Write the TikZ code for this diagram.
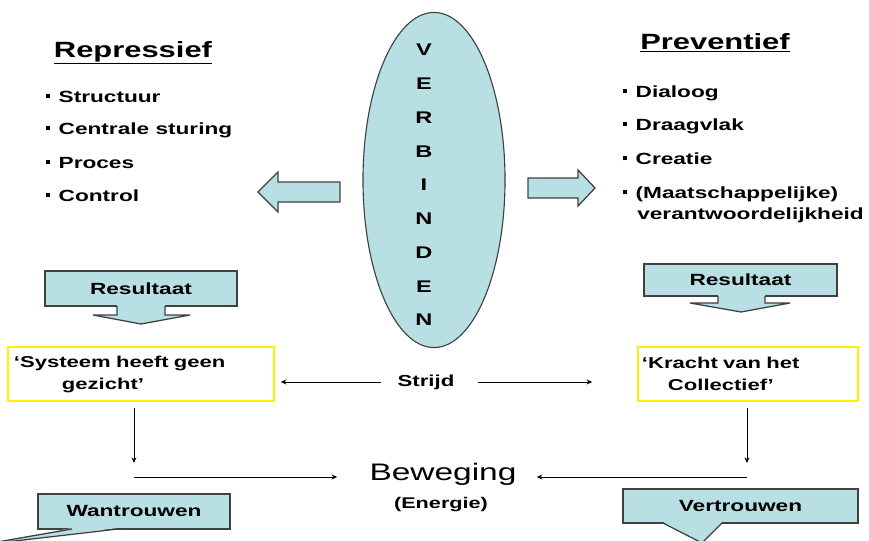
\documentclass[tikz,border=0pt]{standalone}
\usepackage{fontspec}
\setmainfont{Liberation Sans}[FakeStretch=1.4]
\usepackage{tikz}
\usetikzlibrary{arrows.meta, shapes.geometric, positioning}
\definecolor{tealfill}{RGB}{184,223,227}
\definecolor{edgegray}{RGB}{64,64,64}
\newcommand{\sq}{\rule[2.6pt]{2.8pt}{2.8pt}\hspace{6pt}}

\begin{document}
\begin{tikzpicture}[x=0.025cm, y=-0.025cm,
    item/.style={anchor=west, inner sep=0pt, text height=0.72em, text depth=0pt, font=\bfseries\fontsize{11.5}{13}\selectfont},
    title/.style={anchor=base, inner sep=0pt, font=\bfseries\fontsize{15.7}{18}\selectfont},
    letter/.style={inner sep=0pt, font=\bfseries\fontsize{12}{14}\selectfont},
    tealbox/.style={draw=edgegray, fill=tealfill, line width=0.9pt, inner sep=0pt, font=\bfseries\fontsize{11.5}{13}\selectfont},
    quotebox/.style={draw=yellow, line width=1.1pt, align=left, inner ysep=0pt, minimum height=1.35cm, font=\bfseries\fontsize{11.2}{15.6}\selectfont},
    arr/.style={-{Stealth[length=4pt, width=3.5pt]}, line width=0.6pt}]
    \useasboundingbox (0,0) rectangle (869,540);

    % Titles
    \node (rep) [title] at (133,57) {\underline{Repressief}};
    \node (prev) [title] at (715,49) {\underline{Preventief}};

    % Left list
    \node (structuur) [item] at (46,97) {\sq Structuur};
    \node (centraal) [item] at (46,129) {\sq Centrale sturing};
    \node (proces) [item] at (46,163) {\sq Proces};
    \node (control) [item] at (46,196) {\sq Control};

    % Right list
    \node (dialoog) [item] at (623,92) {\sq Dialoog};
    \node (draagvlak) [item] at (623,125) {\sq Draagvlak};
    \node (creatie) [item] at (623,159) {\sq Creatie};
    \node (maatsch) [item] at (623,193) {\sq (Maatschappelijke)};
    \node (verantw) [item] at (637,214) {verantwoordelijkheid};

    % Verbinden ellipse
    \node (verb) [ellipse, draw=edgegray, fill=tealfill, line width=0.8pt, minimum width=3.55cm, minimum height=8.375cm, inner sep=0pt] at (434,180) {};
    \foreach \ch [count=\i from 0] in {V,E,R,B,I,N,D,E,N}
        \node (let\i) [letter] at (424,50+33.75*\i) {\ch};

    % Block arrows
    \draw[draw=edgegray, fill=tealfill, line width=0.9pt] (340,182) -- (278,182) -- (278,172) -- (258,192) -- (278,212) -- (278,202) -- (340,202) -- cycle;
    \draw[draw=edgegray, fill=tealfill, line width=0.9pt] (528,178) -- (578,178) -- (578,170) -- (595,188) -- (578,206) -- (578,198) -- (528,198) -- cycle;

    % Resultaat left
    \node (res1) [tealbox, minimum width=4.8cm, minimum height=0.875cm] at (141,288.5) {Resultaat};
    \fill[tealfill] (117,305) -- (117,315) -- (93,315) -- (141,324) -- (190,315) -- (165,315) -- (165,305) -- cycle;
    \draw[edgegray, line width=0.9pt] (117,306) -- (117,315) -- (93,315) -- (141,324) -- (190,315) -- (165,315) -- (165,306);

    % Resultaat right
    \node (res2) [tealbox, minimum width=4.825cm, minimum height=0.8cm] at (740.5,280) {Resultaat};
    \fill[tealfill] (718,295) -- (718,303) -- (690,303) -- (741,312) -- (790,303) -- (765,303) -- (765,295) -- cycle;
    \draw[edgegray, line width=0.9pt] (718,296) -- (718,303) -- (690,303) -- (741,312) -- (790,303) -- (765,303) -- (765,296);

    % Quote boxes
    \node (sys) [quotebox, inner xsep=0.15cm, text width=6.35cm] at (141,374) {‘Systeem heeft geen\\\hspace*{1.2cm}gezicht’};
    \node (kra) [quotebox, inner xsep=0.1cm, text width=5.3cm] at (748,374) {‘Kracht van het\\\hspace*{0.65cm}Collectief’};

    % Strijd
    \node (strijd) [letter, font=\bfseries\fontsize{11.3}{13}\selectfont] at (426,382) {Strijd};
    \draw[arr, shorten <=0.4cm, shorten >=0.15cm] (strijd.west) -- (strijd.west -| sys.east);
    \draw[arr, shorten <=0.575cm, shorten >=1.125cm] (strijd.east) -- (strijd.east -| kra.west);

    % Beweging
    \node (bew) [anchor=base, inner sep=0pt, font=\fontsize{17}{20}\selectfont] at (443,480) {Beweging};
    \node (energie) [letter, font=\bfseries\fontsize{11}{13}\selectfont] at (441,505) {(Energie)};
    \coordinate (lturn) at (134,477);
    \coordinate (rturn) at (747,477);
    \draw[arr, shorten <=0.15cm, shorten >=0.35cm] (sys.south -| lturn) -- (lturn);
    \draw[arr, shorten >=0.8cm] (lturn) -- (lturn -| bew.west);
    \draw[arr, shorten <=0.15cm, shorten >=0.35cm] (kra.south -| rturn) -- (rturn);
    \draw[arr, shorten >=0.5cm] (rturn) -- (rturn -| bew.east);

    % Wantrouwen / Vertrouwen
    \node (wan) [tealbox, minimum width=4.8cm, minimum height=0.875cm] at (134,511.5) {Wantrouwen};
    \fill[tealfill] (72,528) -- (-20,545) -- (118,528) -- cycle;
    \draw[edgegray, line width=0.9pt] (72,529) -- (-20,545) -- (118,529);
    \node (ver) [tealbox, minimum width=5.875cm, minimum height=0.85cm] at (740.5,506) {Vertrouwen};
    \fill[tealfill] (663,522) -- (702,543) -- (722,522) -- cycle;
    \draw[edgegray, line width=0.9pt] (663,523) -- (702,543) -- (722,523);
\end{tikzpicture}
\end{document}
